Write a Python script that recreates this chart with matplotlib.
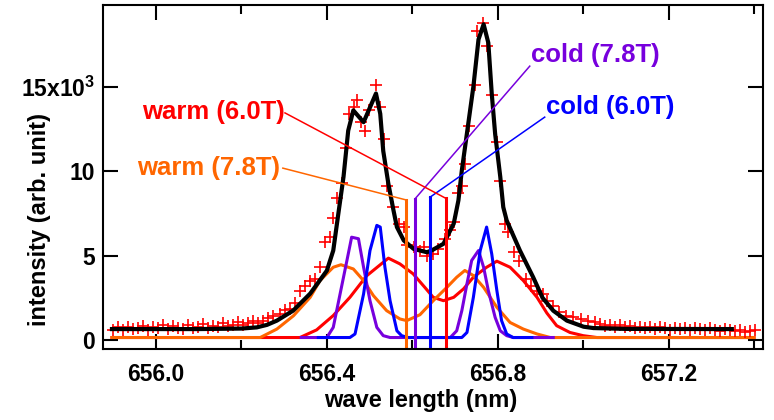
import matplotlib
matplotlib.use("Agg")
import matplotlib.pyplot as plt
from matplotlib.ticker import FixedLocator, FixedFormatter

plt.rcParams['font.family'] = ['Liberation Sans', 'DejaVu Sans']
plt.rcParams['font.weight'] = 'bold'
plt.rcParams['mathtext.fontset'] = 'custom'
plt.rcParams['mathtext.rm'] = 'Liberation Sans:bold'
plt.rcParams['mathtext.it'] = 'Liberation Sans:bold'
plt.rcParams['mathtext.bf'] = 'Liberation Sans:bold'

# measured spectrum (red crosses), intensity in 10^3 counts
data_wl = [655.900, 655.912, 655.923, 655.935, 655.947, 655.958, 655.970, 655.982, 655.994, 656.005,
           656.017, 656.029, 656.040, 656.052, 656.064, 656.076, 656.087, 656.099, 656.111, 656.122,
           656.134, 656.146, 656.158, 656.169, 656.181, 656.193, 656.204, 656.216, 656.228, 656.240,
           656.251, 656.263, 656.275,
           656.290, 656.302, 656.314, 656.325, 656.337, 656.349, 656.360, 656.372, 656.384, 656.396,
           656.407, 656.415, 656.424, 656.435, 656.445, 656.453, 656.464, 656.471, 656.480, 656.490,
           656.498, 656.514, 656.525, 656.534, 656.541, 656.556, 656.569, 656.580, 656.588, 656.604,
           656.617, 656.627, 656.635, 656.649, 656.661, 656.677, 656.689, 656.697, 656.707, 656.716,
           656.723, 656.733, 656.746, 656.752, 656.766, 656.774, 656.786, 656.798, 656.806, 656.817,
           656.825, 656.837, 656.850, 656.866, 656.879, 656.893, 656.905, 656.915, 656.929, 656.944,
           656.960, 656.976, 656.994, 657.012, 657.028,
           657.040, 657.052, 657.063, 657.075, 657.087, 657.098, 657.110, 657.122, 657.133, 657.145,
           657.157, 657.168, 657.180, 657.192, 657.203, 657.215, 657.227, 657.238, 657.250, 657.262,
           657.273, 657.285, 657.297, 657.308, 657.320, 657.332, 657.343, 657.355, 657.367, 657.378,
           657.390, 657.402]
data_int = [0.62, 0.75, 0.58, 0.80, 0.66, 0.72, 0.85, 0.60, 0.78, 0.70,
            0.88, 0.64, 0.82, 0.74, 0.68, 0.90, 0.72, 0.80, 0.95, 0.70,
            0.86, 0.78, 1.00, 0.82, 0.92, 1.05, 0.88, 1.00, 1.10, 0.98,
            1.15, 1.30, 1.40,
            1.55, 1.75, 1.85, 2.20, 2.90, 3.20, 3.50, 3.60, 4.30, 5.80,
            6.10, 7.20, 8.40, 9.30, 11.4, 13.4, 13.8, 14.2, 12.9, 12.4,
            13.6, 15.1, 13.8, 11.9, 9.10, 7.90, 6.90, 6.70, 5.60, 5.50,
            5.30, 5.50, 5.00, 5.10, 5.40, 6.00, 6.50, 7.00, 8.70, 9.10,
            10.4, 12.7, 15.1, 18.3, 18.8, 17.4, 14.5, 11.7, 9.40, 6.90,
            6.40, 5.20, 4.70, 3.60, 3.20, 2.90, 2.70, 2.30, 2.00, 1.65,
            1.45, 1.35, 1.25, 1.15, 1.05,
            0.95, 0.85, 0.90, 0.80, 0.88, 0.76, 0.84, 0.72, 0.80, 0.70,
            0.78, 0.66, 0.76, 0.70, 0.62, 0.74, 0.66, 0.70, 0.60, 0.72,
            0.64, 0.58, 0.70, 0.62, 0.55, 0.66, 0.58, 0.52, 0.62, 0.50,
            0.56, 0.60]

# total fit (black)
fit_wl = [655.897, 656.100, 656.200, 656.236, 656.260, 656.283, 656.321, 656.361, 656.400, 656.415,
          656.427, 656.439, 656.450, 656.462, 656.486, 656.515, 656.525, 656.532, 656.544, 656.556,
          656.564, 656.580, 656.603, 656.634, 656.645, 656.673, 656.697, 656.708, 656.716, 656.731,
          656.743, 656.755, 656.767, 656.778, 656.786, 656.794, 656.806, 656.813, 656.821, 656.852,
          656.883, 656.905, 656.930, 656.962, 657.001, 657.024, 657.100, 657.348]
fit_int = [0.65, 0.65, 0.68, 0.75, 0.90, 1.15, 1.74, 2.75, 4.11, 5.30,
           7.50, 9.66, 12.4, 13.6, 12.9, 14.6, 13.4, 11.2, 9.26, 7.68,
           6.69, 5.90, 5.40, 5.20, 5.30, 5.70, 6.89, 8.27, 10.05, 12.8,
           15.0, 17.8, 18.7, 17.6, 14.6, 12.2, 9.66, 7.87, 7.08, 5.30,
           3.72, 2.50, 1.74, 1.15, 0.79, 0.71, 0.66, 0.65]

# warm component, 6.0T (red)
warm60_wl = [655.897, 656.337, 656.376, 656.415, 656.454, 656.493, 656.544, 656.571, 656.602, 656.630,
             656.649, 656.673, 656.697, 656.720, 656.743, 656.774, 656.798, 656.829, 656.860, 656.892,
             656.915, 656.938, 656.969, 657.000, 657.032, 657.400]
warm60_int = [0.15, 0.15, 0.60, 1.45, 2.53, 3.80, 4.85, 4.51, 3.92, 3.10,
              2.53, 2.33, 2.53, 3.03, 3.72, 4.31, 4.67, 4.31, 3.52, 2.53,
              1.60, 0.85, 0.45, 0.26, 0.15, 0.15]

# warm component, 7.8T (orange)
warm78_wl = [655.897, 656.244, 656.283, 656.322, 656.361, 656.384, 656.415, 656.433, 656.462, 656.486,
             656.509, 656.540, 656.571, 656.587, 656.618, 656.649, 656.681, 656.704, 656.723, 656.743,
             656.767, 656.798, 656.829, 656.860, 656.892, 656.923, 657.400]
warm78_int = [0.15, 0.15, 0.65, 1.44, 2.53, 3.52, 4.31, 4.46, 4.21, 3.52,
              2.63, 1.74, 1.25, 1.15, 1.50, 2.33, 3.12, 3.72, 4.12, 3.82,
              3.12, 1.94, 1.04, 0.65, 0.36, 0.15, 0.15]

# cold component, 7.8T (purple)
cold78_wl = [656.340, 656.400, 656.415, 656.431, 656.447, 656.458, 656.474, 656.486, 656.501, 656.517,
             656.532, 656.548, 656.689, 656.704, 656.716, 656.728, 656.739, 656.755, 656.767, 656.778,
             656.794, 656.806, 656.821, 656.836, 656.930]
cold78_int = [0.15, 0.15, 0.75, 2.73, 4.71, 6.09, 6.00, 4.31, 2.33, 0.75,
              0.26, 0.15, 0.15, 0.55, 1.74, 3.33, 4.71, 5.30, 4.31, 2.93,
              1.34, 0.55, 0.26, 0.15, 0.15]

# cold component, 6.0T (blue)
cold60_wl = [656.380, 656.454, 656.466, 656.486, 656.501, 656.517, 656.525, 656.536, 656.548, 656.564,
             656.575, 656.590, 656.716, 656.728, 656.743, 656.759, 656.774, 656.786, 656.798, 656.809,
             656.821, 656.836, 656.880]
cold60_int = [0.15, 0.15, 0.36, 2.73, 5.30, 6.79, 6.69, 4.31, 2.33, 0.55,
              0.26, 0.15, 0.15, 0.45, 2.53, 5.30, 6.69, 5.10, 2.93, 1.15,
              0.36, 0.15, 0.15]

# centre wavelengths (vertical bars) and label anchors
labels = ['warm (7.8T)', 'cold (7.8T)', 'cold (6.0T)', 'warm (6.0T)']
colors = ['#ff6600', '#7700dd', '#0000ff', '#ff0000']
center_wl = [656.585, 656.606, 656.641, 656.678]
center_top = [8.3, 8.35, 8.45, 8.4]
label_x = [656.290, 656.878, 656.913, 656.302]
label_y = [10.18, 16.87, 13.80, 13.50]
label_ha = ['right', 'left', 'left', 'right']
leader_x = [656.297, 656.875, 656.910, 656.302]
leader_y = [10.18, 16.22, 13.20, 13.45]

fig = plt.figure(figsize=(7.74, 4.2), dpi=100)
ax = fig.add_axes([103 / 774, 1 - 349 / 420, 660 / 774, 344 / 420])

ax.plot(warm60_wl, warm60_int, color='#ff0000', lw=2.2, zorder=3)
ax.plot(warm78_wl, warm78_int, color='#ff6600', lw=2.2, zorder=3)
ax.plot(cold78_wl, cold78_int, color='#7700dd', lw=2.2, zorder=3)
ax.plot(cold60_wl, cold60_int, color='#0000ff', lw=2.2, zorder=3)
ax.plot(data_wl, data_int, ls='none', marker='+', ms=8, mew=1.2, color='#ff0000', zorder=4)
ax.plot(fit_wl, fit_int, color='black', lw=3, zorder=5)

for i in range(len(labels)):
    ax.plot([center_wl[i], center_wl[i]], [-2, center_top[i]], color=colors[i], lw=2.2, zorder=6)
    ax.plot([leader_x[i], center_wl[i]], [leader_y[i], center_top[i]], color=colors[i], lw=1.1, zorder=7)
    ax.text(label_x[i], label_y[i], labels[i], color=colors[i], fontsize=18.5, fontweight='bold',
            ha=label_ha[i], va='center', zorder=8)

ax.set_xlim(655.876, 657.421)
ax.set_ylim(-0.53, 19.84)

ax.xaxis.set_major_locator(FixedLocator([656.0, 656.4, 656.8, 657.2]))
ax.xaxis.set_major_formatter(FixedFormatter(['656.0', '656.4', '656.8', '657.2']))
ax.xaxis.set_minor_locator(FixedLocator([656.2, 656.6, 657.0, 657.4]))
ax.yaxis.set_major_locator(FixedLocator([0, 5, 10, 15]))
ax.yaxis.set_major_formatter(FixedFormatter(['0', '5', '10', '15x10$^{3}$']))
ax.set_axisbelow(True)

ax.tick_params(which='both', direction='in', top=True, right=True, width=1.5, color='black')
ax.tick_params(which='major', length=11, labelsize=16.5)
ax.tick_params(which='minor', length=6.5)
ax.tick_params(axis='x', which='major', pad=10)
ax.tick_params(axis='y', which='major', pad=5.5)
for s in ax.spines.values():
    s.set_linewidth(1.5)
    s.set_zorder(10)

fig.text(40 / 774, 1 - 219 / 420, 'intensity (arb. unit)', rotation=90, ha='center', va='center',
         fontsize=17, fontweight='bold')
fig.text(421 / 774, 1 - 401 / 420, 'wave length (nm)', ha='center', va='center',
         fontsize=17, fontweight='bold')

fig.savefig('out.png', dpi=100)
